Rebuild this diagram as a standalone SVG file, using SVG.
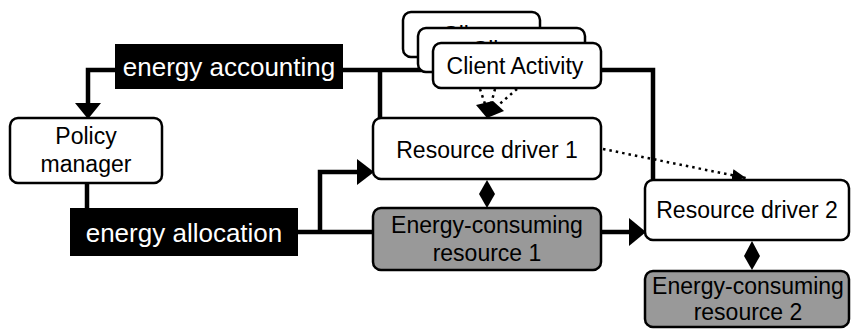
<svg xmlns="http://www.w3.org/2000/svg" width="851" height="329" viewBox="0 0 851 329">
<style>
.box{fill:#fff;stroke:#000;stroke-width:2.5}
.gray{fill:#999;stroke:#000;stroke-width:2.5}
.lbl{fill:#000}
.t{font-family:"Liberation Sans",Arial,sans-serif;font-size:23px;fill:#000;text-anchor:middle}
.tw{font-family:"Liberation Sans",Arial,sans-serif;font-size:26px;fill:#fff;text-anchor:middle}
.w{fill:none;stroke:#000;stroke-width:4.5}
.dot{fill:none;stroke:#000;stroke-width:2.5;stroke-dasharray:2.5 4}
</style>
<defs>
<marker id="dh" markerUnits="userSpaceOnUse" markerWidth="16" markerHeight="14" refX="14" refY="7" orient="auto">
<path d="M0,1 L14,7 L0,13 Z" fill="#000"/>
</marker>
</defs>
<g id="connectors">
<polyline class="w" points="115,70 88,70 88,104"/>
<polygon points="75,103 101,103 88,119" fill="#000"/>
<line class="w" x1="87" y1="183" x2="87" y2="208"/>
<polyline class="w" points="343,70 653,70 653,181"/>
<line class="w" x1="380" y1="70" x2="380" y2="119"/>
<line class="w" x1="298" y1="232" x2="373" y2="232"/>
<polyline class="w" points="320,232 320,172 359,172"/>
<polygon points="357,159 357,185 374,172" fill="#000"/>
<line class="w" x1="601" y1="232" x2="631" y2="232"/>
<polygon points="629,218 629,246 646,232" fill="#000"/>
<line class="dot" x1="603" y1="149" x2="746" y2="178" marker-end="url(#dh)"/>
<line class="dot" x1="480" y1="89" x2="487" y2="110"/>
<line class="dot" x1="495" y1="89" x2="490" y2="108"/>
<line class="dot" x1="517" y1="89" x2="495" y2="108"/>
<polygon points="476,105 493,101 504,111 487,118" fill="#000"/>
<polygon points="487,180 495,194 487,208 479,194" fill="#000"/>
<polygon points="752,241 760,256 752,270 744,256" fill="#000"/>
</g>
<g id="client3">
<rect class="box" x="403" y="12" width="137" height="45" rx="8"/>
<text class="t" x="471.5" y="43">Client</text>
</g>
<g id="client2">
<rect class="box" x="418" y="28" width="167" height="44" rx="8"/>
<text class="t" x="501" y="58">Client</text>
</g>
<g id="client1">
<rect class="box" x="433" y="43" width="168" height="45" rx="8"/>
<text class="t" x="515" y="74">Client Activity</text>
</g>
<g id="energy-accounting">
<rect class="lbl" x="115" y="44" width="228" height="45"/>
<text class="tw" x="229" y="76">energy accounting</text>
</g>
<g id="policy-manager">
<rect class="box" x="10" y="118" width="152" height="65" rx="8"/>
<text class="t" x="86" y="144">Policy</text>
<text class="t" x="86" y="172">manager</text>
</g>
<g id="energy-allocation">
<rect class="lbl" x="70" y="208" width="228" height="48"/>
<text class="tw" x="184" y="242">energy allocation</text>
</g>
<g id="resource-driver-1">
<rect class="box" x="373" y="118" width="228" height="61" rx="8"/>
<text class="t" x="487" y="158">Resource driver 1</text>
</g>
<g id="energy-consuming-resource-1">
<rect class="gray" x="373" y="208" width="228" height="62" rx="8"/>
<text class="t" x="487" y="233">Energy-consuming</text>
<text class="t" x="487" y="261">resource 1</text>
</g>
<g id="resource-driver-2">
<rect class="box" x="645" y="180" width="204" height="60" rx="8"/>
<text class="t" x="747" y="218">Resource driver 2</text>
</g>
<g id="energy-consuming-resource-2">
<rect class="gray" x="645" y="271" width="204" height="56" rx="8"/>
<text class="t" x="748" y="294">Energy-consuming</text>
<text class="t" x="748" y="320">resource 2</text>
</g>
</svg>
